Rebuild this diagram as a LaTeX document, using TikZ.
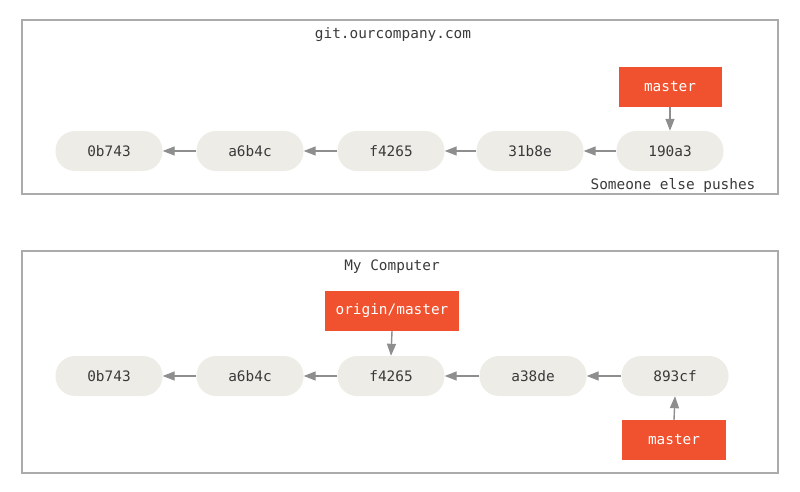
\documentclass[tikz,border=0pt]{standalone}
\usepackage{fontspec}
\setmonofont{DejaVu Sans Mono}
\usetikzlibrary{arrows.meta}
\definecolor{commitfill}{HTML}{EDECE6}
\definecolor{branchred}{HTML}{F0522F}
\definecolor{arrowgrey}{HTML}{8E8E8E}
\definecolor{framegrey}{HTML}{ABABAB}
\definecolor{textdark}{HTML}{3A3A3A}
\tikzset{
  commit/.style={fill=commitfill, draw=none, minimum width=107pt, minimum height=40pt, rounded corners=19.5pt, inner sep=0pt, font=\ttfamily\fontsize{14.4}{16}\selectfont, text=textdark},
  branch/.style={fill=branchred, draw=none, minimum height=40pt, inner sep=0pt, font=\ttfamily\fontsize{14.4}{16}\selectfont, text=white},
  frame/.style={draw=framegrey, line width=1.2pt},
  label/.style={font=\ttfamily\fontsize{14.4}{16}\selectfont, text=textdark, inner sep=0pt},
  link/.style={draw=arrowgrey, line width=1.4pt, -{Triangle[length=12pt,width=9pt]}, shorten >=0pt}
}
\begin{document}
\begin{tikzpicture}[x=1pt,y=-1pt]
\useasboundingbox (0,0) rectangle (800,492);
% top frame
\draw[frame] (22,20) rectangle (778,194);
\node[label] (t1) at (393,35) {git.ourcompany.com};
\node[commit] (a1) at (109,151) {0b743};
\node[commit] (a2) at (250,151) {a6b4c};
\node[commit] (a3) at (391,151) {f4265};
\node[commit] (a4) at (530,151) {31b8e};
\node[commit] (a5) at (670,151) {190a3};
\node[branch, minimum width=103pt] (am) at (670,87) {master};
\node[label] (t2) at (673,185) {Someone else pushes};
\draw[link] (a2.west) -- (a1.east);
\draw[link] (a3.west) -- (a2.east);
\draw[link] (a4.west) -- (a3.east);
\draw[link] (a5.west) -- (a4.east);
\draw[link] (am.south) -- (a5.north);
% bottom frame
\draw[frame] (22,251) rectangle (778,473);
\node[label] (t3) at (392,267) {My Computer};
\node[commit] (b1) at (109,376) {0b743};
\node[commit] (b2) at (250,376) {a6b4c};
\node[commit] (b3) at (391,376) {f4265};
\node[commit] (b4) at (533,376) {a38de};
\node[commit] (b5) at (675,376) {893cf};
\node[branch, minimum width=134pt] (bo) at (392,311) {origin/master};
\node[branch, minimum width=104pt] (bm) at (674,440) {master};
\draw[link] (b2.west) -- (b1.east);
\draw[link] (b3.west) -- (b2.east);
\draw[link] (b4.west) -- (b3.east);
\draw[link] (b5.west) -- (b4.east);
\draw[link] (bo.south) -- (b3.north);
\draw[link] (bm.north) -- (b5.south);
\end{tikzpicture}
\end{document}
